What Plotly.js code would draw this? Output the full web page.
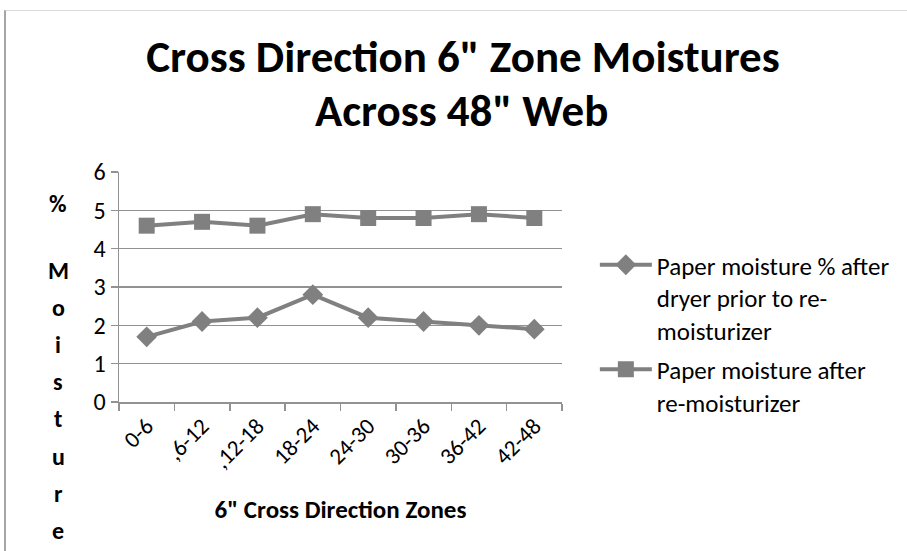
<!DOCTYPE html>
<html>
<head>
<meta charset="utf-8">
<script src="https://cdn.plot.ly/plotly-3.0.1.min.js"></script>
<style>
  html, body { margin: 0; padding: 0; background: #fff; }
  #wrap { position: relative; width: 907px; height: 551px; overflow: hidden; }
  #frame { position: absolute; left: 4px; top: 10px; right: -2px; bottom: -2px;
           border-left: 2px solid #a6a6a6; border-top: 1px solid #d9d9d9; pointer-events: none; }
  #chart { position: absolute; left: 0; top: 0; width: 907px; height: 551px; }
</style>
</head>
<body>
<div id="wrap">
  <div id="chart"></div>
  <div id="frame"></div>
</div>
<script>
// ---- data ----
const zones = ["0-6", ",6-12", ",12-18", "18-24", "24-30", "30-36", "36-42", "42-48"];
const beforeRemoist = [1.7, 2.1, 2.2, 2.8, 2.2, 2.1, 2.0, 1.9];
const afterRemoist  = [4.6, 4.7, 4.6, 4.9, 4.8, 4.8, 4.9, 4.8];
const seriesNames = [
  "Paper moisture % after<br>dryer prior to re-<br>moisturizer",
  "Paper moisture after<br>re-moisturizer"
];
const titleLines = ["Cross Direction 6\" Zone Moistures", "Across 48\" Web"];
const xTitle = "6\" Cross Direction Zones";
const yTitleChars = ["%", "M", "o", "i", "s", "t", "u", "r", "e"];
const yTicks = [0, 1, 2, 3, 4, 5, 6];

// ---- layout geometry ----
const W = 907, H = 551;
const M = { l: 119, r: 343, t: 172, b: 149 };
const lineColor = "#808080";
const gridColor = "#929292";
const bodyFont = "Carlito, 'Open Sans', 'Liberation Sans', sans-serif";
const yLetterPx = [203, 270, 307, 344, 381, 418, 456, 493, 530];

function paperY(py) { return (H - M.b - py) / (H - M.t - M.b); }
function paperX(px) { return (px - M.l) / (W - M.l - M.r); }

const annotations = yTitleChars.map((c, i) => ({
  text: c, showarrow: false, xref: "paper", yref: "paper",
  x: paperX(58), y: paperY(yLetterPx[i]),
  xanchor: "center", yanchor: "middle",
  font: { family: bodyFont, size: 24, color: "#000", weight: "bold" }
}));
annotations.push({
  text: titleLines[1], showarrow: false, xref: "paper", yref: "paper",
  x: paperX(463), y: paperY(110), xanchor: "center", yanchor: "middle",
  font: { family: bodyFont, size: 45, color: "#000", weight: "bold" }
});

const traces = [
  {
    x: zones, y: beforeRemoist, name: seriesNames[0], type: "scatter", mode: "lines+markers",
    legendgroup: "a",
    line: { color: lineColor, width: 4 },
    marker: { symbol: "diamond", size: 16, color: lineColor }
  },
  {
    x: zones, y: afterRemoist, name: seriesNames[1], type: "scatter", mode: "lines+markers",
    legendgroup: "b",
    line: { color: lineColor, width: 4 },
    marker: { symbol: "square", size: 16, color: lineColor }
  }
];

const layout = {
  width: W, height: H,
  margin: M,
  paper_bgcolor: "rgba(0,0,0,0)", plot_bgcolor: "rgba(0,0,0,0)",
  showlegend: true,
  title: {
    text: titleLines[0],
    font: { family: bodyFont, size: 45, color: "#000", weight: "bold" },
    x: 463 / W, xanchor: "center", xref: "container",
    y: 1 - 56 / H, yanchor: "middle", yref: "container"
  },
  xaxis: {
    type: "category",
    range: [-0.5, zones.length - 0.5],
    tickson: "boundaries",
    ticks: "outside", ticklen: 7, tickcolor: gridColor, tickwidth: 1.5,
    showline: true, linecolor: gridColor, linewidth: 1.5,
    showgrid: false, zeroline: false,
    tickangle: -45,
    tickfont: { family: bodyFont, size: 23, color: "#000" },
    title: { text: xTitle, standoff: 27, font: { family: bodyFont, size: 25, color: "#000", weight: "bold" } },
    fixedrange: true
  },
  yaxis: {
    range: [0, 6],
    tickvals: yTicks,
    ticks: "outside", ticklen: 7, tickcolor: gridColor, tickwidth: 1.5,
    showline: true, linecolor: gridColor, linewidth: 1.5,
    showgrid: true, gridcolor: gridColor, gridwidth: 1.5,
    zeroline: false,
    tickfont: { family: bodyFont, size: 24, color: "#000" },
    fixedrange: true
  },
  legend: {
    x: paperX(597), xanchor: "left",
    y: paperY(242), yanchor: "top",
    valign: "top",
    traceorder: "grouped",
    tracegroupgap: 4,
    font: { family: bodyFont, size: 25, color: "#000" },
    itemwidth: 52,
    bgcolor: "rgba(0,0,0,0)"
  },
  annotations: annotations
};

Plotly.newPlot("chart", traces, layout, { displayModeBar: false, staticPlot: true });
</script>
</body>
</html>
